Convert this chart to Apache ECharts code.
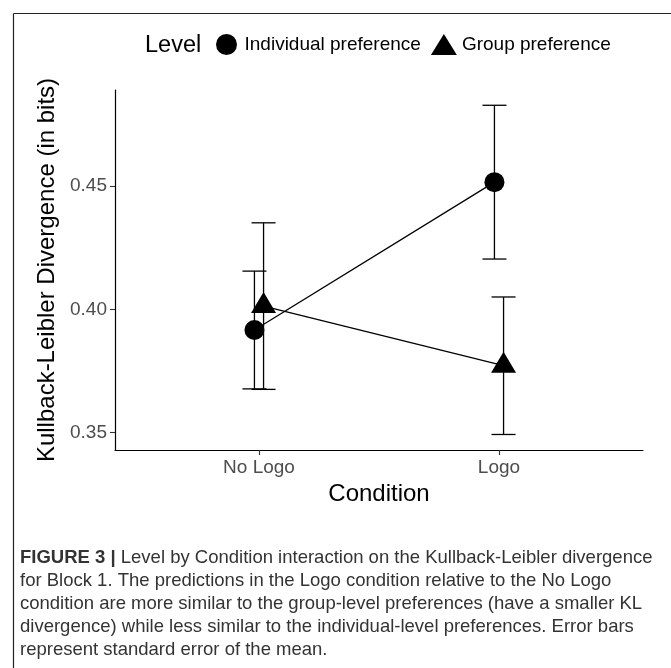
<!DOCTYPE html>
<html><head><meta charset="utf-8">
<script src="https://cdn.jsdelivr.net/npm/echarts@6/dist/echarts.min.js"></script>
<style>html,body{margin:0;padding:0;background:#fff}#c{width:671px;height:668px}</style>
</head><body><div id="c"></div>
<script>
// ---- data ----
const categories = ['No Logo', 'Logo'];
const seriesNames = ['Individual preference', 'Group preference'];
const individualMean = [0.3916, 0.4516];
const individualSE = [0.0239, 0.0312];
const groupMean = [0.4013, 0.3771];
const groupSE = [0.0338, 0.0279];
const yTicks = [0.35, 0.40, 0.45];
const legendTitle = 'Level';
const xTitle = 'Condition';
const yTitle = 'Kullback-Leibler Divergence (in bits)';
const captionBold = 'FIGURE 3 |';
const captionLines = [
  ' Level by Condition interaction on the Kullback-Leibler divergence',
  'for Block 1. The predictions in the Logo condition relative to the No Logo',
  'condition are more similar to the group-level preferences (have a smaller KL',
  'divergence) while less similar to the individual-level preferences. Error bars',
  'represent standard error of the mean.'
];

// ---- styling constants ----
const FONT = 'Liberation Sans';
const dodge = 0.019;
const capHalf = 0.05;

const chart = echarts.init(document.getElementById('c'), null, {renderer: 'canvas'});

function pts(means, off) { return means.map((m, i) => [i + off, m]); }
function bars(means, ses, off) { return means.map((m, i) => [i + off, m - ses[i], m + ses[i]]); }

function errorRender(params, api) {
  const x = api.value(0), lo = api.value(1), hi = api.value(2);
  const pLo = api.coord([x, lo]), pHi = api.coord([x, hi]);
  const l = api.coord([x - capHalf, lo])[0], r = api.coord([x + capHalf, lo])[0];
  const style = {stroke: '#000', lineWidth: 1.3};
  return {type: 'group', children: [
    {type: 'line', shape: {x1: pLo[0], y1: pLo[1], x2: pHi[0], y2: pHi[1]}, style},
    {type: 'line', shape: {x1: l, y1: pLo[1], x2: r, y2: pLo[1]}, style},
    {type: 'line', shape: {x1: l, y1: pHi[1], x2: r, y2: pHi[1]}, style}
  ]};
}

const CAP_FS = 18.5;
const captionGraphics = captionLines.map((t, i) => ({
  type: 'text', left: 20, top: 548 + i * 23,
  style: i === 0 ? {
    text: '{b|' + captionBold + '}' + t,
    font: CAP_FS + 'px ' + FONT, fill: '#333',
    rich: {b: {fontWeight: 'bold', fontSize: CAP_FS, fontFamily: FONT, fill: '#333'}}
  } : {text: t, font: CAP_FS + 'px ' + FONT, fill: '#333'}
}));

const option = {
  animation: false,
  backgroundColor: '#fff',
  color: ['#000', '#000'],
  textStyle: {fontFamily: FONT},
  grid: {left: 115, right: 28, top: 90, bottom: 218, containLabel: false},
  legend: {
    left: 216, top: 34, padding: 0, itemWidth: 26, itemHeight: 21, itemGap: 10,
    selectedMode: false,
    data: [{name: seriesNames[0], icon: 'circle'}, {name: seriesNames[1], icon: 'triangle'}],
    textStyle: {fontSize: 19, color: '#000', fontFamily: FONT}
  },
  xAxis: {
    type: 'value', min: -0.6, max: 1.6,
    splitLine: {show: false},
    axisLine: {onZero: false, lineStyle: {color: '#000', width: 1.2}},
    axisTick: {customValues: [0, 1], length: 5, lineStyle: {color: '#333', width: 1.1}},
    axisLabel: {customValues: [0, 1], formatter: v => categories[Math.round(v)], fontSize: 19, color: '#4d4d4d', margin: 8, fontFamily: FONT},
    name: xTitle, nameLocation: 'middle', nameGap: 28,
    nameTextStyle: {fontSize: 24, color: '#000', fontFamily: FONT}
  },
  yAxis: {
    type: 'value', min: 0.3429, max: 0.4890,
    splitLine: {show: false},
    axisLine: {show: true, onZero: false, lineStyle: {color: '#000', width: 1.2}},
    axisTick: {show: true, customValues: yTicks, length: 5, lineStyle: {color: '#333', width: 1.1}},
    axisLabel: {customValues: yTicks, formatter: v => v.toFixed(2), fontSize: 19, color: '#4d4d4d', margin: 8, fontFamily: FONT},
    name: yTitle, nameLocation: 'middle', nameGap: 56,
    nameTextStyle: {fontSize: 24, color: '#000', fontFamily: FONT}
  },
  graphic: [
    {type: 'line', shape: {x1: 13.5, y1: 13.5, x2: 13.5, y2: 668}, style: {stroke: '#222', lineWidth: 1.2}},
    {type: 'line', shape: {x1: 13.5, y1: 13.5, x2: 671, y2: 13.5}, style: {stroke: '#222', lineWidth: 1.2}},
    {type: 'text', left: 145, top: 34, style: {text: legendTitle, font: '23.5px ' + FONT, fill: '#000'}}
  ].concat(captionGraphics),
  series: [
    {name: seriesNames[0] + ' err', type: 'custom', renderItem: errorRender, encode: {x: 0, y: [1, 2]}, data: bars(individualMean, individualSE, -dodge), z: 1},
    {name: seriesNames[1] + ' err', type: 'custom', renderItem: errorRender, encode: {x: 0, y: [1, 2]}, data: bars(groupMean, groupSE, dodge), z: 1},
    {name: seriesNames[0], type: 'line', data: pts(individualMean, -dodge), symbol: 'circle', symbolSize: 20,
     lineStyle: {color: '#000', width: 1.3}, itemStyle: {color: '#000'}, z: 3},
    {name: seriesNames[1], type: 'line', data: pts(groupMean, dodge), symbol: 'triangle', symbolSize: [25, 21], symbolOffset: [0, -3.5],
     lineStyle: {color: '#000', width: 1.3}, itemStyle: {color: '#000'}, z: 3}
  ]
};
chart.setOption(option);
</script>
</body></html>
